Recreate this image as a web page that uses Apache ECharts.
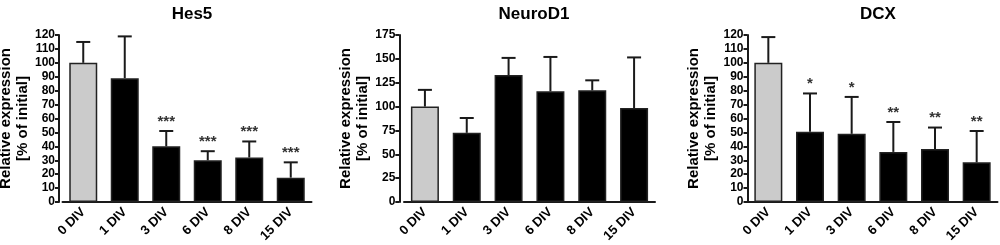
<!DOCTYPE html>
<html>
<head>
<meta charset="utf-8">
<script src="https://cdn.jsdelivr.net/npm/echarts@6/dist/echarts.min.js"></script>
<style>
  html, body { margin: 0; padding: 0; background: #fff; }
  #chart { width: 1000px; height: 245px; }
</style>
</head>
<body>
<div id="chart"></div>
<script>
// categories shared by the three panels
const categories = ['0 DIV', '1 DIV', '3 DIV', '6 DIV', '8 DIV', '15 DIV']

// Hes5
const hes5Mean = [100, 89, 40, 30, 32, 17.5]
const hes5Upper = [115, 119, 51, 36.5, 43.5, 28.5]
const hes5Stars = ['', '', '***', '***', '***', '***']

// NeuroD1
const neuroMean = [100, 72.5, 133, 116, 117, 98.5]
const neuroUpper = [117.5, 88, 151, 152, 127.5, 151.5]
const neuroStars = ['', '', '', '', '', '']

// DCX
const dcxMean = [100, 50.5, 49, 36, 38, 28.5]
const dcxUpper = [118.5, 78, 75.5, 57.5, 53.5, 51]
const dcxStars = ['', '*', '*', '**', '**', '**']

const panels = [
  {title: 'Hes5', mean: hes5Mean, upper: hes5Upper, stars: hes5Stars, max: 120, step: 10, left: 62.5, width: 249, offset: 3.5, gap: 25, titleX: 187},
  {title: 'NeuroD1', mean: neuroMean, upper: neuroUpper, stars: neuroStars, max: 175, step: 25, left: 404, width: 251, offset: 4.7, gap: 25, titleX: 529},
  {title: 'DCX', mean: dcxMean, upper: dcxUpper, stars: dcxStars, max: 120, step: 10, left: 747.5, width: 250, offset: 0, gap: 28, titleX: 873}
]

const ink = '#1a1a1a'
const fontFam = 'Liberation Sans, Arial, sans-serif'

let option = {
  animation: false,
  backgroundColor: '#fff',
  textStyle: {fontFamily: fontFam},
  title: [],
  grid: [],
  xAxis: [],
  yAxis: [],
  series: []
}

panels.forEach((p, i) => {
  option.title.push({
    text: p.title,
    left: p.titleX,
    top: 1,
    textAlign: 'center',
    textStyle: {fontSize: 17, fontWeight: 'bold', color: '#000', fontFamily: fontFam}
  })
  option.grid.push({left: p.left, top: 35, width: p.width, height: 167, containLabel: false, outerBoundsMode: 'none'})
  option.xAxis.push({
    type: 'category',
    gridIndex: i,
    data: categories,
    axisLine: {lineStyle: {color: ink, width: 2}},
    axisTick: {alignWithLabel: true, length: 4, lineStyle: {color: ink, width: 2}},
    axisLabel: {rotate: 45, fontSize: 13, fontWeight: 'bold', color: '#000', margin: 8, interval: 0}
  })
  option.yAxis.push({
    type: 'value',
    gridIndex: i,
    min: 0,
    max: p.max,
    interval: p.step,
    offset: p.offset,
    name: 'Relative expression\n[% of initial]',
    nameLocation: 'middle',
    nameGap: p.gap,
    nameTextStyle: {fontSize: 15, fontWeight: 'bold', color: '#000', lineHeight: 17},
    axisLine: {show: true, lineStyle: {color: ink, width: 2}},
    axisTick: {show: true, length: 4, lineStyle: {color: ink, width: 2}},
    axisLabel: {fontSize: 12, fontWeight: 'bold', color: '#000', margin: 4},
    splitLine: {show: false}
  })
  option.series.push({
    type: 'bar',
    xAxisIndex: i,
    yAxisIndex: i,
    barWidth: 28,
    data: p.mean.map((v, k) => ({
      value: v,
      itemStyle: {color: k === 0 ? '#cbcbcb' : '#000', borderColor: '#222', borderWidth: 1.5}
    })),
    z: 2
  })
  // error bars (upper only) with significance stars
  option.series.push({
    type: 'custom',
    xAxisIndex: i,
    yAxisIndex: i,
    z: 3,
    data: p.mean.map((v, k) => [k, v, p.upper[k]]),
    renderItem: (params, api) => {
      let k = api.value(0)
      let base = api.coord([k, api.value(1)])
      let top = api.coord([k, api.value(2)])
      let half = 7
      let children = [
        {type: 'line', shape: {x1: base[0], y1: base[1], x2: top[0], y2: top[1]}, style: {stroke: ink, lineWidth: 2}},
        {type: 'line', shape: {x1: top[0] - half, y1: top[1], x2: top[0] + half, y2: top[1]}, style: {stroke: ink, lineWidth: 2}}
      ]
      let s = p.stars[k]
      if (s) {
        children.push({
          type: 'text',
          style: {
            text: s,
            x: top[0],
            y: top[1] - 2,
            align: 'center',
            verticalAlign: 'bottom',
            fill: '#333',
            font: 'bold 15px ' + fontFam
          }
        })
      }
      return {type: 'group', children: children}
    }
  })
})

let myChart = echarts.init(document.getElementById('chart'))
myChart.setOption(option)
</script>
</body>
</html>
